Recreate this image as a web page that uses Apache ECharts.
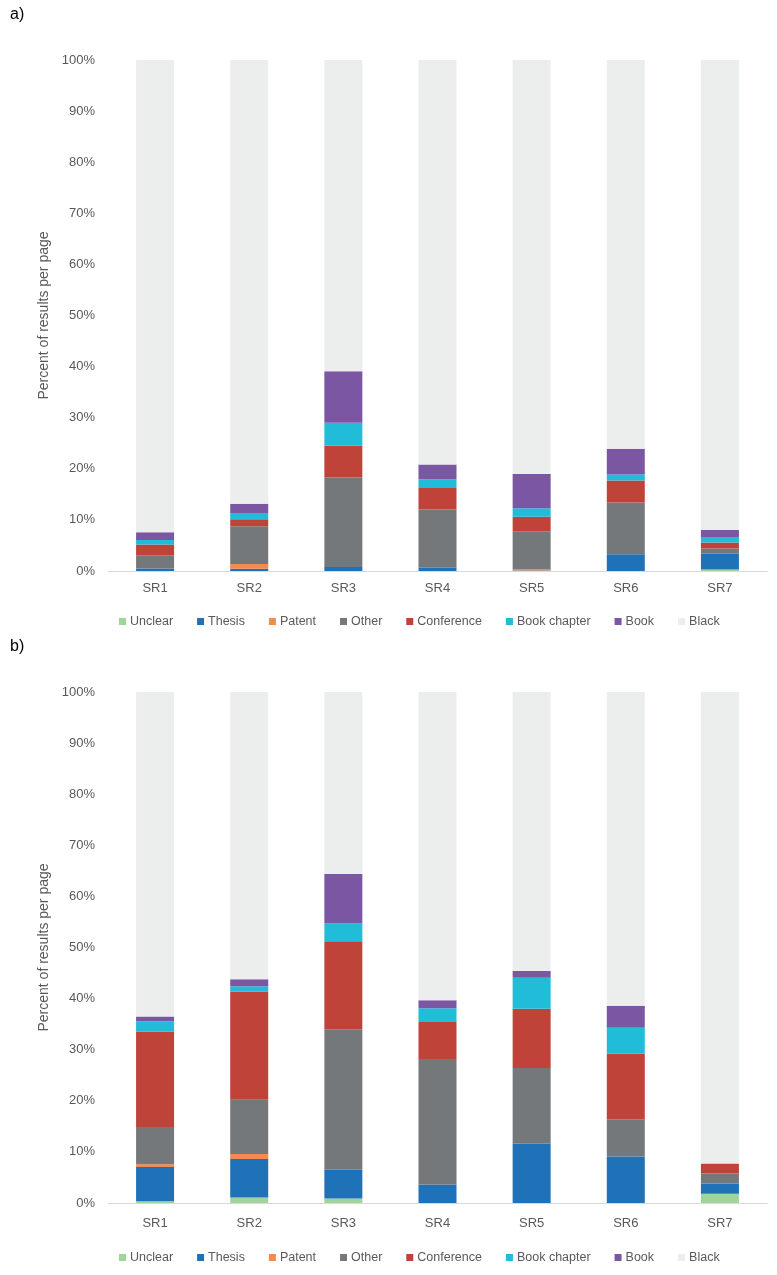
<!DOCTYPE html>
<html>
<head>
<meta charset="utf-8">
<script src="https://cdn.jsdelivr.net/npm/echarts@6/dist/echarts.min.js"></script>
<style>
html,body{margin:0;padding:0;background:#fff;}
#main{width:777px;height:1275px;}
</style>
</head>
<body>
<div id="main"></div>
<script>
// Categories
const categories = ['SR1','SR2','SR3','SR4','SR5','SR6','SR7'];
const seriesNames = ['Unclear','Thesis','Patent','Other','Conference','Book chapter','Book','Black'];
const yTicks = [0,10,20,30,40,50,60,70,80,90,100];

// Panel a)
const unclearA     = [0,    0,     0,    0,     0,    0,    0.3];
const thesisA      = [0.5,  0.45,  0.8,  0.65,  0.1,  3.3,  3.1];
const patentA      = [0,    0.9,   0,    0,     0.3,  0,    0];
const otherA       = [2.6,  7.4,   17.5, 11.4,  7.4,  10.1, 1.0];
const conferenceA  = [2.1,  1.4,   6.2,  4.2,   2.8,  4.3,  1.2];
const bookChapterA = [0.85, 1.2,   4.5,  1.7,   1.7,  1.2,  1.05];
const bookA        = [1.55, 1.8,   10.1, 2.9,   6.7,  5.0,  1.35];
const blackA       = [92.4, 86.85, 60.9, 79.15, 81.0, 76.1, 92.0];

// Panel b)
const unclearB     = [0.36,  1.1,  0.9,  0,    0,    0,    1.8];
const thesisB      = [6.7,   7.5,  5.6,  3.6,  11.6, 9.1,  2.0];
const patentB      = [0.5,   1.0,  0,    0,    0,    0,    0];
const otherB       = [7.3,   10.6, 27.5, 24.6, 14.8, 7.3,  1.95];
const conferenceB  = [18.7,  21.2, 17.2, 7.2,  11.6, 12.8, 2.0];
const bookChapterB = [2.0,   1.0,  3.5,  2.7,  6.1,  5.1,  0];
const bookB        = [0.95,  1.4,  9.7,  1.6,  1.3,  4.3,  0];
const blackB       = [63.49, 56.2, 35.6, 60.3, 54.6, 61.4, 92.25];

const colors = ['#9fd49a','#1f72b8','#f38a4e','#75787b','#bf4338','#21bcd8','#7b57a3','#eceded'];

const dataA = [unclearA, thesisA, patentA, otherA, conferenceA, bookChapterA, bookA, blackA];
const dataB = [unclearB, thesisB, patentB, otherB, conferenceB, bookChapterB, bookB, blackB];

const textColor = '#595959';
const font = 'Liberation Sans, Arial, sans-serif';

function xAxis(gi, margin){
  return {
    type:'category', gridIndex:gi, data:categories,
    axisLine:{show:true, lineStyle:{color:'#d9d9d9', width:1}},
    axisTick:{show:false},
    axisLabel:{color:textColor, fontSize:13, fontFamily:font, margin:margin}
  };
}
function yAxis(gi){
  return {
    type:'value', gridIndex:gi, min:0, max:100, interval:10,
    name:'Percent of results per page', nameLocation:'middle', nameGap:55, nameRotate:90,
    nameTextStyle:{color:textColor, fontSize:14, fontFamily:font},
    axisLine:{show:false}, axisTick:{show:false}, splitLine:{show:false},
    axisLabel:{color:textColor, fontSize:13, fontFamily:font, margin:13, formatter:'{value}%'}
  };
}

const series = [];
[dataA, dataB].forEach((d, gi) => {
  d.forEach((vals, i) => {
    series.push({
      name: seriesNames[i], type:'bar', stack: gi===0 ? 'a' : 'b',
      xAxisIndex: gi, yAxisIndex: gi, data: vals, barWidth: 38,
      itemStyle:{color: colors[i]}, animation:false,
      emphasis:{disabled:true}
    });
  });
});

function legend(top){
  return {
    top: top, left: 114, itemWidth:7, itemHeight:7, itemGap:24, icon:'rect',
    data: seriesNames,
    textStyle:{color:textColor, fontSize:12.5, fontFamily:font, padding:[0,0,0,-1]}
  };
}

const option = {
  backgroundColor:'#fff',
  color: colors,
  animation:false,
  grid:[
    {left:108, right:10, top:60, height:511},
    {left:108, right:10, top:692, height:511}
  ],
  xAxis:[xAxis(0, 11), xAxis(1, 14)],
  yAxis:[yAxis(0), yAxis(1)],
  legend:[legend(610), legend(1246)],
  graphic:[
    {type:'text', left:10, top:7, style:{text:'a)', fill:'#000', font:'16px ' + font}},
    {type:'text', left:10, top:639, style:{text:'b)', fill:'#000', font:'16px ' + font}}
  ],
  series: series
};

const chart = echarts.init(document.getElementById('main'), null, {renderer:'canvas'});
chart.setOption(option);
</script>
</body>
</html>
